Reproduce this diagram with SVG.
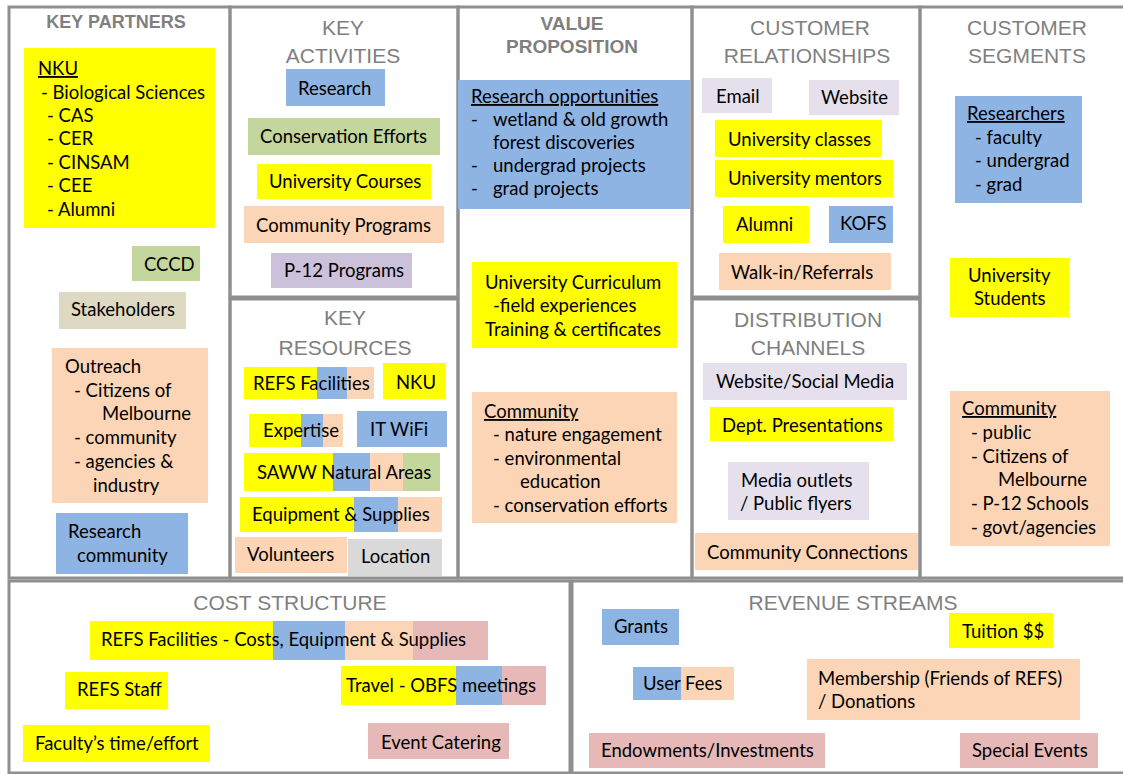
<svg xmlns="http://www.w3.org/2000/svg" width="1123" height="774" viewBox="0 0 1123 774">
<style>
.frame{fill:none;stroke:#8f8f8f;stroke-width:3}
.hdr{font-family:"Liberation Sans",Arial,sans-serif;fill:#7f7f7f;font-size:21px;text-anchor:middle}
.hb{font-weight:bold;font-size:18px}
.hv{font-weight:bold;font-size:19px}
.t{font-family:Lato,"Liberation Sans",sans-serif;font-size:18.5px;fill:#000}
.u{text-decoration:underline}
.y{fill:#ffff00}.b{fill:#8eb4e3}.g{fill:#c3d69b}.p{fill:#fbd5b5}.l{fill:#ccc1da}.ll{fill:#e6e0ec}.k{fill:#ddd9c3}.gr{fill:#d9d9d9}.pk{fill:#e6b9b8}
</style>
<rect width="1123" height="774" fill="#ffffff"/>
<g id="canvas">
<rect class="frame" x="9" y="7" width="221" height="571"/>
<rect class="frame" x="230" y="7" width="228" height="290"/>
<rect class="frame" x="230" y="299" width="228" height="279"/>
<rect class="frame" x="458" y="7" width="234" height="571"/>
<rect class="frame" x="692" y="7" width="228" height="290"/>
<rect class="frame" x="692" y="299" width="228" height="279"/>
<rect class="frame" x="920" y="7" width="205" height="571"/>
<rect class="frame" x="9" y="581" width="561" height="192"/>
<rect class="frame" x="572" y="581" width="553" height="192"/>
<text class="hdr hb" x="116" y="28">KEY PARTNERS</text>
<text class="hdr" x="343" y="35">KEY</text>
<text class="hdr" x="343" y="63">ACTIVITIES</text>
<text class="hdr" x="345" y="325">KEY</text>
<text class="hdr" x="345" y="355">RESOURCES</text>
<text class="hdr hv" x="572" y="30">VALUE</text>
<text class="hdr hv" x="572" y="53">PROPOSITION</text>
<text class="hdr" x="810" y="35">CUSTOMER</text>
<text class="hdr" x="807" y="63">RELATIONSHIPS</text>
<text class="hdr" x="808" y="327">DISTRIBUTION</text>
<text class="hdr" x="808" y="355">CHANNELS</text>
<text class="hdr" x="1027" y="35">CUSTOMER</text>
<text class="hdr" x="1027" y="63">SEGMENTS</text>
<text class="hdr" x="290" y="610">COST STRUCTURE</text>
<text class="hdr" x="853" y="610">REVENUE STREAMS</text>
</g>
<g id="connectors"/>
<g id="kp-nku"><rect class="y" x="24" y="48" width="191" height="180"/>
<text class="t"><tspan class="u" x="38" y="75">NKU</tspan><tspan x="41" y="99">- Biological Sciences</tspan><tspan x="47" y="122">- CAS</tspan><tspan x="47" y="145">- CER</tspan><tspan x="47" y="169">- CINSAM</tspan><tspan x="47" y="192">- CEE</tspan><tspan x="47" y="216">- Alumni</tspan></text></g>
<g id="kp-cccd"><rect class="g" x="132" y="246" width="68" height="35"/><text class="t" x="144" y="271">CCCD</text></g>
<g id="kp-stake"><rect class="k" x="59" y="292" width="127" height="37"/><text class="t" x="71" y="316">Stakeholders</text></g>
<g id="kp-outreach"><rect class="p" x="52" y="348" width="156" height="155"/>
<text class="t"><tspan x="65" y="373">Outreach</tspan><tspan x="74" y="397">- Citizens of</tspan><tspan x="102" y="420">Melbourne</tspan><tspan x="74" y="444">- community</tspan><tspan x="74" y="468">- agencies &amp;</tspan><tspan x="93" y="492">industry</tspan></text></g>
<g id="kp-research"><rect class="b" x="56" y="513" width="132" height="61"/>
<text class="t"><tspan x="68" y="538">Research</tspan><tspan x="77" y="562">community</tspan></text></g>

<g id="ka-research"><rect class="b" x="286" y="69" width="99" height="37"/><text class="t" x="298" y="95">Research</text></g>
<g id="ka-conservation"><rect class="g" x="248" y="118" width="192" height="37"/><text class="t" x="260" y="143">Conservation Efforts</text></g>
<g id="ka-courses"><rect class="y" x="257" y="164" width="174" height="35"/><text class="t" x="269" y="188">University Courses</text></g>
<g id="ka-community"><rect class="p" x="244" y="206" width="200" height="37"/><text class="t" x="256" y="232">Community Programs</text></g>
<g id="ka-p12"><rect class="l" x="271" y="253" width="141" height="35"/><text class="t" x="284" y="277">P-12 Programs</text></g>

<g id="kr-refs"><rect class="y" x="244" y="367" width="73" height="32"/><rect class="b" x="317" y="367" width="30" height="32"/><rect class="p" x="347" y="367" width="27" height="32"/><text class="t" x="253" y="390">REFS Facilities</text></g>
<g id="kr-nku"><rect class="y" x="383" y="363" width="63" height="36"/><text class="t" x="396" y="389">NKU</text></g>
<g id="kr-expertise"><rect class="y" x="249" y="414" width="52" height="33"/><rect class="b" x="301" y="414" width="22" height="33"/><rect class="p" x="323" y="414" width="20" height="33"/><text class="t" x="263" y="437">Expertise</text></g>
<g id="kr-it"><rect class="b" x="357" y="411" width="90" height="36"/><text class="t" x="370" y="436">IT WiFi</text></g>
<g id="kr-saww"><rect class="y" x="244" y="453" width="89" height="38"/><rect class="b" x="333" y="453" width="37" height="38"/><rect class="p" x="370" y="453" width="33" height="38"/><rect class="g" x="403" y="453" width="37" height="38"/><text class="t" x="257" y="479">SAWW Natural Areas</text></g>
<g id="kr-equipment"><rect class="y" x="240" y="497" width="114" height="35"/><rect class="b" x="354" y="497" width="44" height="35"/><rect class="p" x="398" y="497" width="44" height="35"/><text class="t" x="252" y="521">Equipment &amp; Supplies</text></g>
<g id="kr-volunteers"><rect class="p" x="235" y="537" width="112" height="36"/><text class="t" x="247" y="561">Volunteers</text></g>
<g id="kr-location"><rect class="gr" x="348" y="539" width="94" height="37"/><text class="t" x="361" y="563">Location</text></g>

<g id="vp-research"><rect class="b" x="458" y="80" width="232" height="129"/>
<text class="t"><tspan class="u" x="471" y="103">Research opportunities</tspan><tspan x="471" y="126">-</tspan><tspan x="493" y="126">wetland &amp; old growth</tspan><tspan x="493" y="149">forest discoveries</tspan><tspan x="471" y="172">-</tspan><tspan x="493" y="172">undergrad projects</tspan><tspan x="471" y="195">-</tspan><tspan x="493" y="195">grad projects</tspan></text></g>
<g id="vp-curriculum"><rect class="y" x="472" y="262" width="205" height="86"/>
<text class="t"><tspan x="485" y="289">University Curriculum</tspan><tspan x="493" y="312">-field experiences</tspan><tspan x="485" y="336">Training &amp; certificates</tspan></text></g>
<g id="vp-community"><rect class="p" x="472" y="392" width="205" height="131"/>
<text class="t"><tspan class="u" x="484" y="418">Community</tspan><tspan x="493" y="441">- nature engagement</tspan><tspan x="493" y="465">- environmental</tspan><tspan x="520" y="488">education</tspan><tspan x="493" y="512">- conservation efforts</tspan></text></g>

<g id="cr-email"><rect class="ll" x="702" y="78" width="70" height="35"/><text class="t" x="716" y="103">Email</text></g>
<g id="cr-website"><rect class="ll" x="809" y="80" width="90" height="35"/><text class="t" x="821" y="104">Website</text></g>
<g id="cr-classes"><rect class="y" x="715" y="120" width="167" height="37"/><text class="t" x="728" y="146">University classes</text></g>
<g id="cr-mentors"><rect class="y" x="715" y="160" width="178" height="37"/><text class="t" x="728" y="185">University mentors</text></g>
<g id="cr-alumni"><rect class="y" x="723" y="206" width="86" height="37"/><text class="t" x="736" y="231">Alumni</text></g>
<g id="cr-kofs"><rect class="b" x="829" y="206" width="64" height="37"/><text class="t" x="840" y="230">KOFS</text></g>
<g id="cr-walkin"><rect class="p" x="719" y="253" width="172" height="37"/><text class="t" x="731" y="279">Walk-in/Referrals</text></g>

<g id="dc-website"><rect class="ll" x="703" y="363" width="204" height="37"/><text class="t" x="716" y="388">Website/Social Media</text></g>
<g id="dc-dept"><rect class="y" x="710" y="407" width="183" height="34"/><text class="t" x="722" y="432">Dept. Presentations</text></g>
<g id="dc-media"><rect class="ll" x="728" y="462" width="141" height="58"/>
<text class="t"><tspan x="741" y="487">Media outlets</tspan><tspan x="740" y="510">/ Public flyers</tspan></text></g>
<g id="dc-community"><rect class="p" x="695" y="533" width="223" height="37"/><text class="t" x="707" y="559">Community Connections</text></g>

<g id="cs-researchers"><rect class="b" x="955" y="96" width="127" height="107"/>
<text class="t"><tspan class="u" x="967" y="120">Researchers</tspan><tspan x="975" y="144">- faculty</tspan><tspan x="975" y="167">- undergrad</tspan><tspan x="975" y="191">- grad</tspan></text></g>
<g id="cs-students"><rect class="y" x="950" y="258" width="119" height="59"/>
<text class="t"><tspan x="968" y="282">University</tspan><tspan x="974" y="305">Students</tspan></text></g>
<g id="cs-community"><rect class="p" x="950" y="391" width="160" height="155"/>
<text class="t"><tspan class="u" x="962" y="415">Community</tspan><tspan x="971" y="439">- public</tspan><tspan x="971" y="463">- Citizens of</tspan><tspan x="998" y="486">Melbourne</tspan><tspan x="971" y="510">- P-12 Schools</tspan><tspan x="971" y="534">- govt/agencies</tspan></text></g>

<g id="cost-refs"><rect class="y" x="90" y="621" width="183" height="39"/><rect class="b" x="273" y="621" width="72" height="39"/><rect class="p" x="345" y="621" width="68" height="39"/><rect class="pk" x="413" y="621" width="75" height="39"/><text class="t" x="101" y="646">REFS Facilities - Costs, Equipment &amp; Supplies</text></g>
<g id="cost-staff"><rect class="y" x="65" y="672" width="103" height="37"/><text class="t" x="77" y="696">REFS Staff</text></g>
<g id="cost-faculty"><rect class="y" x="23" y="725" width="187" height="37"/><text class="t" x="35" y="750">Faculty’s time/effort</text></g>
<g id="cost-travel"><rect class="y" x="341" y="666" width="115" height="39"/><rect class="b" x="456" y="666" width="46" height="39"/><rect class="pk" x="502" y="666" width="44" height="39"/><text class="t" x="346" y="692">Travel - OBFS meetings</text></g>
<g id="cost-catering"><rect class="pk" x="368" y="723" width="141" height="36"/><text class="t" x="381" y="749">Event Catering</text></g>

<g id="rev-grants"><rect class="b" x="602" y="609" width="77" height="36"/><text class="t" x="614" y="633">Grants</text></g>
<g id="rev-tuition"><rect class="y" x="949" y="613" width="104" height="35"/><text class="t" x="962" y="638">Tuition $$</text></g>
<g id="rev-user"><rect class="b" x="633" y="667" width="48" height="33"/><rect class="p" x="681" y="667" width="53" height="33"/><text class="t" x="643" y="690">User Fees</text></g>
<g id="rev-membership"><rect class="p" x="807" y="659" width="273" height="61"/>
<text class="t"><tspan x="818" y="685">Membership (Friends of REFS)</tspan><tspan x="818" y="708">/ Donations</tspan></text></g>
<g id="rev-endowments"><rect class="pk" x="589" y="733" width="236" height="35"/><text class="t" x="601" y="757">Endowments/Investments</text></g>
<g id="rev-special"><rect class="pk" x="960" y="733" width="138" height="35"/><text class="t" x="972" y="757">Special Events</text></g>
</svg>
